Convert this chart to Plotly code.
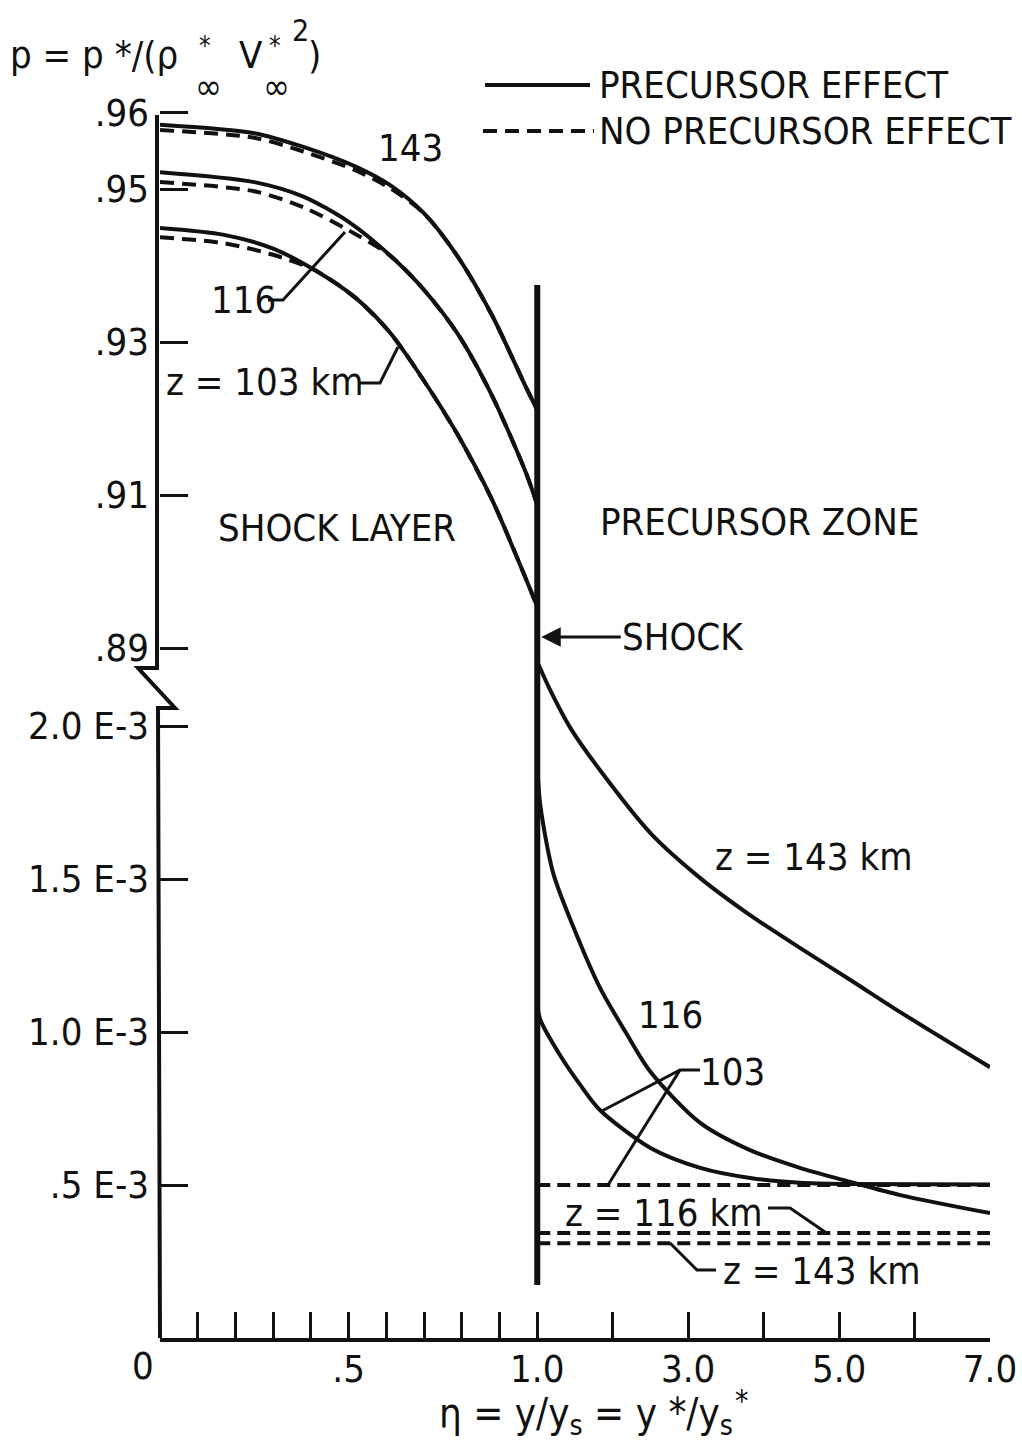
import plotly.graph_objects as go

# ---------------- data ----------------
# Shock layer (0 <= eta <= 1), p values
eta_sl_143 = [0, 0.25, 0.38, 0.52, 0.61, 0.70, 0.79, 0.88, 0.97, 1.0]
p_sl_143_pre = [0.9584, 0.9573, 0.9555, 0.9529, 0.9505, 0.9468, 0.9411, 0.9335, 0.9241, 0.9211]
p_sl_143_nopre = [0.9577, 0.9567, 0.9549, 0.9524, 0.9501, 0.9468, 0.9411, 0.9335, 0.9241, 0.9211]

eta_sl_116 = [0, 0.25, 0.38, 0.50, 0.61, 0.70, 0.79, 0.88, 0.97, 1.0]
p_sl_116_pre = [0.9522, 0.9509, 0.9490, 0.9457, 0.9413, 0.9368, 0.9310, 0.9230, 0.9129, 0.9087]
p_sl_116_nopre = [0.9509, 0.9497, 0.9476, 0.9446, 0.9413, 0.9368, 0.9310, 0.9230, 0.9129, 0.9087]

eta_sl_103 = [0, 0.17, 0.30, 0.41, 0.52, 0.61, 0.70, 0.79, 0.88, 0.95, 1.0]
p_sl_103_pre = [0.9449, 0.9440, 0.9422, 0.9394, 0.9357, 0.9312, 0.9249, 0.9178, 0.9094, 0.9014, 0.8954]
p_sl_103_nopre = [0.9437, 0.9429, 0.9414, 0.9394, 0.9357, 0.9312, 0.9249, 0.9178, 0.9094, 0.9014, 0.8954]

# Precursor zone (1 <= eta <= 7), p values
eta_pz_143 = [1.0, 1.17, 1.44, 1.83, 2.50, 3.16, 3.82, 4.48, 5.15, 5.81, 7.0]
p_pz_143_pre = [2.21e-3, 2.118e-3, 1.993e-3, 1.856e-3, 1.650e-3, 1.503e-3, 1.382e-3, 1.275e-3, 1.170e-3, 1.065e-3, 0.885e-3]

eta_pz_116 = [1.0, 1.04, 1.21, 1.50, 1.83, 2.17, 2.50, 3.16, 3.82, 4.48, 5.15, 5.81, 7.0]
p_pz_116_pre = [1.873e-3, 1.742e-3, 1.520e-3, 1.330e-3, 1.145e-3, 1.000e-3, 0.870e-3, 0.703e-3, 0.614e-3, 0.556e-3, 0.510e-3, 0.467e-3, 0.408e-3]

eta_pz_103 = [1.0, 1.04, 1.30, 1.57, 1.83, 2.50, 3.16, 3.82, 4.48, 5.15, 7.0]
p_pz_103_pre = [1.088e-3, 1.040e-3, 0.925e-3, 0.827e-3, 0.745e-3, 0.621e-3, 0.556e-3, 0.523e-3, 0.507e-3, 0.503e-3, 0.502e-3]

eta_pz_flat = [1.0, 7.0]
p_pz_103_nopre = [0.500e-3, 0.500e-3]
p_pz_116_nopre = [0.343e-3, 0.343e-3]
p_pz_143_nopre = [0.310e-3, 0.310e-3]

# ticks
x_tick_eta = [0.5, 1.0, 3.0, 5.0, 7.0]
x_tick_text = [".5", "1.0", "3.0", "5.0", "7.0"]
x_minor_eta = [0.1, 0.2, 0.3, 0.4, 0.6, 0.7, 0.8, 0.9, 2.0, 4.0, 6.0]
y_top_ticks = [0.89, 0.91, 0.93, 0.95, 0.96]
y_top_text = [".89", ".91", ".93", ".95", ".96"]
y_bot_ticks = [0.5e-3, 1.0e-3, 1.5e-3, 2.0e-3]
y_bot_text = [".5 E-3", "1.0 E-3", "1.5 E-3", "2.0 E-3"]

# ---------------- layout helpers ----------------
W, H = 1022, 1446
FONT = "DejaVu Sans Condensed, Liberation Sans Narrow, DejaVu Sans, sans-serif"
FS = 38
BLACK = "#111111"


def X(px):
    return px / W


def Y(py):
    return 1 - py / H


def u(eta):
    # piecewise x scale: 0..1 linear, 1..7 compressed
    return eta if eta <= 1 else 1 + (eta - 1) * 0.2


def us(etas):
    return [u(e) for e in etas]


def vtop(py):
    return 0.93 + (342 - py) / 7650.0


def vbot(py):
    return (1338 - py) / 306000.0


fig = go.Figure()

solid = dict(color=BLACK, width=4)
dashed = dict(color=BLACK, width=4, dash="14px,8px")

# shock layer curves
for eta, pre, nopre in [
    (eta_sl_143, p_sl_143_pre, p_sl_143_nopre),
    (eta_sl_116, p_sl_116_pre, p_sl_116_nopre),
    (eta_sl_103, p_sl_103_pre, p_sl_103_nopre),
]:
    fig.add_trace(go.Scatter(x=us(eta), y=nopre, mode="lines", line=dict(dashed, shape="spline", smoothing=0.8),
                             xaxis="x", yaxis="y", showlegend=False, hoverinfo="skip"))
    fig.add_trace(go.Scatter(x=us(eta), y=pre, mode="lines", line=dict(solid, shape="spline", smoothing=0.8),
                             xaxis="x", yaxis="y", showlegend=False, hoverinfo="skip"))

# precursor zone curves
for p in [p_pz_103_nopre, p_pz_116_nopre, p_pz_143_nopre]:
    fig.add_trace(go.Scatter(x=us(eta_pz_flat), y=p, mode="lines",
                             line=dict(color=BLACK, width=4, dash="13px,7px"),
                             xaxis="x", yaxis="y2", showlegend=False, hoverinfo="skip"))
for eta, p in [(eta_pz_143, p_pz_143_pre), (eta_pz_116, p_pz_116_pre), (eta_pz_103, p_pz_103_pre)]:
    fig.add_trace(go.Scatter(x=us(eta), y=p, mode="lines", line=dict(solid, shape="spline", smoothing=0.8),
                             xaxis="x", yaxis="y2", showlegend=False, hoverinfo="skip"))

shapes = []
# left axis with break
path = "M {},{} L {},{} L {},{} L {},{} L {},{} L {},{}".format(
    X(157), Y(115), X(157), Y(668), X(138), Y(668), X(175), Y(708), X(158), Y(708), X(160), Y(1338))
shapes.append(dict(type="path", xref="paper", yref="paper", path=path,
                   line=dict(color=BLACK, width=4)))
# shock line
shapes.append(dict(type="line", xref="x", yref="paper", x0=u(1.0), x1=u(1.0), y0=Y(1285), y1=Y(285),
                   line=dict(color=BLACK, width=6)))
# legend samples
shapes.append(dict(type="line", xref="paper", yref="paper", x0=X(485), x1=X(590), y0=Y(85), y1=Y(85),
                   line=dict(color=BLACK, width=4)))
shapes.append(dict(type="line", xref="paper", yref="paper", x0=X(483), x1=X(594), y0=Y(131), y1=Y(131),
                   line=dict(color=BLACK, width=4, dash="14px,8px")))


def leader(pts):
    d = "M " + " L ".join("{},{}".format(X(a), Y(b)) for a, b in pts)
    shapes.append(dict(type="path", xref="paper", yref="paper", path=d,
                       line=dict(color=BLACK, width=3)))


leader([(268, 300), (283, 300), (345, 232)])
leader([(360, 383), (380, 383), (398, 347)])
leader([(700, 1070), (680, 1070), (600, 1112)])
leader([(680, 1070), (608, 1185)])
leader([(768, 1208), (790, 1208), (825, 1232)])
leader([(670, 1243), (697, 1270), (716, 1270)])

ann = []


def txt(s, px, py, size=FS, xanchor="center"):
    ann.append(dict(text=s, x=X(px), y=Y(py), xref="paper", yref="paper", showarrow=False,
                    xanchor=xanchor, yanchor="middle", font=dict(family=FONT, size=size, color=BLACK)))


# y-axis title composed
txt("p = p */(ρ", 8, 55, xanchor="left")
txt("*", 205, 46, size=26)
txt("∞", 208, 86, size=36)
txt("V", 251, 55)
txt("*", 275, 46, size=26)
txt("∞", 276, 86, size=36)
txt("2", 300, 30, size=30)
txt(")", 314, 55)

# legend text
txt("PRECURSOR EFFECT", 597, 85, xanchor="left")
txt("NO PRECURSOR EFFECT", 597, 131, xanchor="left")

txt("143", 410, 148)
txt("116", 243, 300)
txt("z = 103 km", 265, 382)
txt("SHOCK LAYER", 337, 528)
txt("PRECURSOR ZONE", 759, 522)
txt("z = 143 km", 814, 857)
txt("116", 670, 1015)
txt("103", 732, 1072)
txt("z = 116 km", 664, 1213)
txt("z = 143 km", 822, 1271)
txt("0", 143, 1366)

# x-axis title
txt("η = y/y<sub>s</sub> = y */y<sub>s</sub>", 586, 1416, size=40)
txt("*", 742, 1400, size=30)

# shock arrow
ann.append(dict(text="SHOCK", x=u(1.0), y=Y(637), xref="x", yref="paper", ax=146, ay=0,
                showarrow=True, arrowhead=2, arrowsize=1.3, arrowwidth=3, arrowcolor=BLACK,
                standoff=4, font=dict(family=FONT, size=FS, color=BLACK)))

tickfont = dict(family=FONT, size=FS, color=BLACK)

fig.update_layout(
    width=W, height=H, autosize=False,
    margin=dict(l=0, r=0, t=0, b=0, pad=0, autoexpand=False),
    paper_bgcolor="white", plot_bgcolor="white",
    showlegend=False,
    shapes=shapes, annotations=ann,
    xaxis=dict(domain=[X(160), X(990)], range=[0, u(7.0)], anchor="y2", automargin=False,
               showline=True, linecolor=BLACK, linewidth=4,
               ticks="inside", ticklen=26, tickwidth=3, tickcolor=BLACK,
               tickmode="array", tickvals=us(x_tick_eta), ticktext=x_tick_text, tickfont=tickfont,
               ticklabelstandoff=-6,
               minor=dict(tickmode="array", tickvals=us(x_minor_eta), ticks="inside",
                          ticklen=26, tickwidth=3, tickcolor=BLACK, showgrid=False),
               showgrid=False, zeroline=False),
    yaxis=dict(domain=[Y(665), Y(105)], range=[vtop(665), vtop(105)], anchor="x", automargin=False,
               showline=False, ticks="inside", ticklen=28, tickwidth=3, tickcolor=BLACK,
               tickvals=y_top_ticks, ticktext=y_top_text, tickfont=tickfont,
               ticklabelstandoff=10,
               showgrid=False, zeroline=False),
    yaxis2=dict(domain=[Y(1338), Y(650)], range=[vbot(1338), vbot(650)], anchor="x", automargin=False,
                showline=False, ticks="inside", ticklen=28, tickwidth=3, tickcolor=BLACK,
                tickvals=y_bot_ticks, ticktext=y_bot_text, tickfont=tickfont,
                ticklabelstandoff=10,
                showgrid=False, zeroline=False),
)

fig.write_html(
    "out.html",
    config={"displayModeBar": False},
    post_script="document.body.style.margin='0px';document.documentElement.style.overflow='hidden';",
)
